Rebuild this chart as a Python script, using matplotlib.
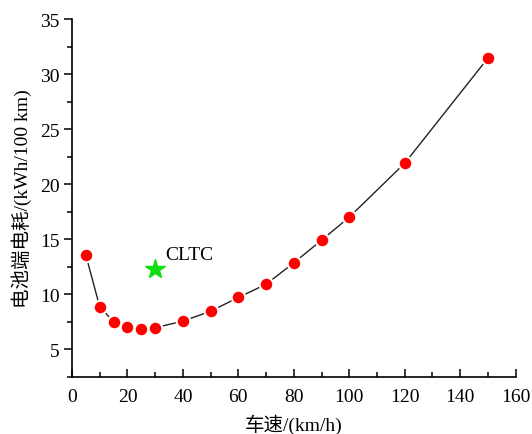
import matplotlib
matplotlib.use("Agg")
import matplotlib.pyplot as plt
from matplotlib.ticker import MultipleLocator

speed = [5, 10, 15, 20, 25, 30, 40, 50, 60, 70, 80, 90, 100, 120, 150]
energy = [13.55, 8.85, 7.5, 7.0, 6.85, 6.95, 7.55, 8.45, 9.7, 10.9, 12.85, 14.9, 17.0, 21.9, 31.45]
cltc_speed = [30]
cltc_energy = [12.3]
cltc_label = "CLTC"
xlabel = "车速/(km/h)"
ylabel = "电池端电耗/(kWh/100 km)"

plt.rcParams['font.family'] = ['Liberation Serif', 'Noto Sans CJK SC', 'DejaVu Sans']

fig = plt.figure(figsize=(5.32, 4.35), dpi=100)
ax = fig.add_axes([0.1353, 0.1317, 0.834, 0.8223])

ax.plot(speed, energy, color='#222222', lw=1.0, marker='o', markersize=9.8,
        markerfacecolor='#ff0000', markeredgecolor='white', markeredgewidth=1.5, zorder=3)
ax.plot(cltc_speed, cltc_energy, linestyle='none', marker='*', markersize=15,
        color='#11dd11', markeredgecolor='#11dd11', zorder=4)
ax.text(33.5, 13.6, cltc_label, fontsize=14, va='center', ha='left')

ax.set_xlim(0, 160)
ax.set_ylim(2.5, 35)
ax.xaxis.set_major_locator(MultipleLocator(20))
ax.xaxis.set_minor_locator(MultipleLocator(10))
ax.yaxis.set_major_locator(MultipleLocator(5))
ax.yaxis.set_minor_locator(MultipleLocator(2.5))
ax.set_yticks([5, 10, 15, 20, 25, 30, 35])

for s in ['top', 'right']:
    ax.spines[s].set_visible(False)
for s in ['left', 'bottom']:
    ax.spines[s].set_linewidth(1.2)

ax.tick_params(axis='x', which='major', direction='in', length=6, width=1.1, labelsize=14, pad=8)
ax.tick_params(axis='x', which='minor', direction='in', length=3.5, width=1.1)
ax.tick_params(axis='y', which='major', direction='out', length=6, width=1.1, labelsize=14, pad=3)
ax.tick_params(axis='y', which='minor', direction='out', length=3.5, width=1.1)

ax.set_xlabel(xlabel, fontsize=14, labelpad=6)
ax.set_ylabel(ylabel, fontsize=14, labelpad=6)

fig.savefig("out.png", dpi=100)
